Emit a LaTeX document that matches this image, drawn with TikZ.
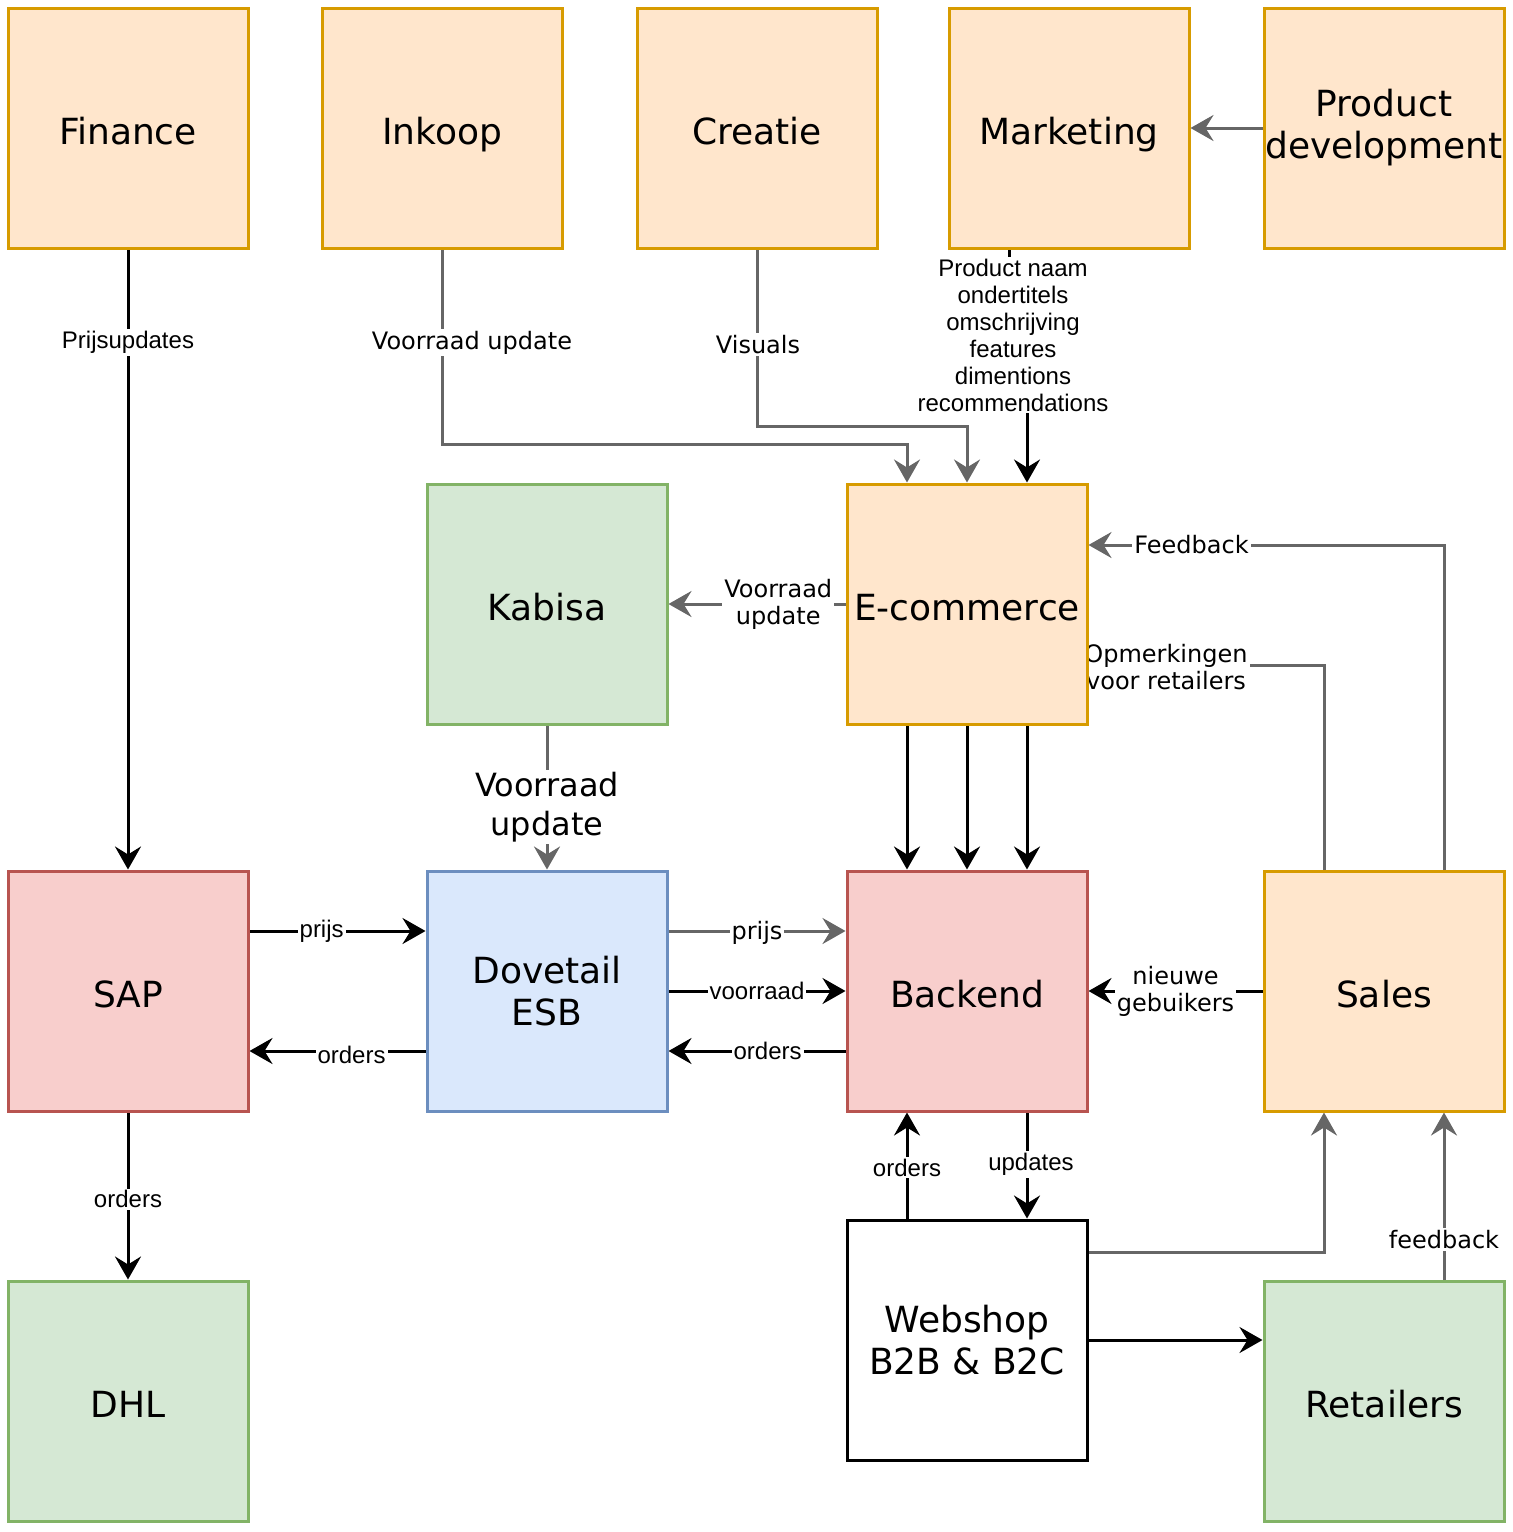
\documentclass[tikz,border=0pt]{standalone}
\usepackage{fontspec}
\setmainfont{DejaVu Sans}
\newfontfamily\arialf{Liberation Sans}
\usetikzlibrary{arrows.meta,calc}
\pgfdeclarelayer{bg}
\pgfsetlayers{bg,main}
\definecolor{orgfill}{HTML}{FFE6CC}
\definecolor{orgline}{HTML}{D79B00}
\definecolor{grnfill}{HTML}{D5E8D4}
\definecolor{grnline}{HTML}{82B366}
\definecolor{redfill}{HTML}{F8CECC}
\definecolor{redline}{HTML}{B85450}
\definecolor{blufill}{HTML}{DAE8FC}
\definecolor{bluline}{HTML}{6C8EBF}
\definecolor{grayline}{HTML}{666666}
\begin{document}
\begin{tikzpicture}[x=0.5pt,y=-0.5pt,
  box/.style={draw, line width=1.5pt, minimum width=120pt, minimum height=120pt, inner sep=0pt, align=center, font=\fontsize{18}{21}\selectfont},
  one/.style={text height=16pt, text depth=0pt},
  org/.style={box, fill=orgfill, draw=orgline},
  grn/.style={box, fill=grnfill, draw=grnline},
  red/.style={box, fill=redfill, draw=redline},
  blu/.style={box, fill=blufill, draw=bluline},
  wht/.style={box, fill=white, draw=black},
  edge/.style={line width=1.5pt, -{Stealth[length=11.5pt,width=13pt,inset=4pt]}},
  gedge/.style={edge, draw=grayline, color=grayline},
  lab/.style={fill=white, text=black, inner sep=1pt, align=center, font=\fontsize{12}{13.5}\selectfont},
  alab/.style={lab, font=\arialf\fontsize{12}{13.5}\selectfont},
  blab/.style={lab, font=\fontsize{16}{19.5}\selectfont}
]
\useasboundingbox (0,0) rectangle (1512,1532);
% nodes
\node[org, one] (fin) at (128,128) {Finance};
\node[org, one] (ink) at (442,128) {Inkoop};
\node[org, one] (cre) at (757,128) {Creatie};
\node[org, one] (mkt) at (1069,128) {Marketing};
\node[org] (pd) at (1384,128) {Product\\development};
\node[grn, one] (kab) at (547,604) {Kabisa};
\node[org, one] (ecom) at (967,604) {E-commerce};
\node[red, one] (sap) at (128,991) {SAP};
\node[blu] (dov) at (547,991) {Dovetail\\ESB};
\node[red, one] (back) at (967,991) {Backend};
\node[org, one] (sales) at (1384,991) {Sales};
\node[grn, one] (dhl) at (128,1401) {DHL};
\node[wht] (web) at (967,1340) {Webshop\\B2B \& B2C};
\node[grn, one] (ret) at (1384,1401) {Retailers};
\begin{pgfonlayer}{bg}
% top row
\draw[gedge] (pd.west) -- (mkt.east);
\draw[edge] (fin.south) -- node[alab, pos=0.15] {Prijsupdates} (sap.north);
\draw[gedge] (ink.south) -- ++(0,195) -| ($(ecom.north)+(-60,0)$);
\node[lab] (inklab) at ($(ink.south)+(30,93)$) {Voorraad update};
\draw[gedge] (cre.south) -- ++(0,177) -| (ecom.north);
\node[lab] (crelab) at ($(cre.south)+(1,95)$) {Visuals};
\draw[edge] ($(mkt.south)+(-60,0)$) -- ++(0,80) -| ($(ecom.north)+(60,0)$);
\node[alab] (mktlab) at (1013,335) {Product naam\\ondertitels\\omschrijving\\features\\dimentions\\recommendations};
% e-commerce
\draw[gedge] (ecom.west) -- node[lab, pos=0.38] {Voorraad\\update} (kab.east);
\draw[gedge] (kab.south) -- node[blab, pos=0.565] {Voorraad\\update} (dov.north);
\draw[edge] ($(ecom.south)+(-60,0)$) -- ($(back.north)+(-60,0)$);
\draw[edge] (ecom.south) -- (back.north);
\draw[edge] ($(ecom.south)+(60,0)$) -- ($(back.north)+(60,0)$);
% middle row
\draw[edge] ($(sap.east)+(0,-60)$) -- node[alab, pos=0.41] {prijs} ($(dov.west)+(0,-60)$);
\draw[edge] ($(dov.west)+(0,60)$) -- node[alab, pos=0.42, yshift=-2pt] {orders} ($(sap.east)+(0,60)$);
\draw[gedge] ($(dov.east)+(0,-60)$) -- node[lab, pos=0.5, yshift=-1pt] {prijs} ($(back.west)+(0,-60)$);
\draw[edge] (dov.east) -- node[alab, pos=0.5] {voorraad} (back.west);
\draw[edge] ($(back.west)+(0,60)$) -- node[alab, pos=0.44] {orders} ($(dov.east)+(0,60)$);
\draw[edge] (sales.west) -- node[lab, pos=0.5] {nieuwe\\gebuikers} (back.east);
\draw[gedge] ($(sales.north)+(60,0)$) |- node[lab, pos=0.855] {Feedback} ($(ecom.east)+(0,-59)$);
\draw[gedge] ($(sales.north)+(-60,0)$) |- ($(ecom.east)+(0,61)$);
\node[lab] (opmlab) at (1166,667) {Opmerkingen\\voor retailers};
% bottom
\draw[edge] ($(web.north)+(-60,0)$) -- node[alab, pos=0.48] {orders} ($(back.south)+(-60,0)$);
\draw[edge] ($(back.south)+(60,0)$) -- node[alab, pos=0.49, xshift=2pt] {updates} ($(web.north)+(60,0)$);
\draw[gedge] ($(web.east)+(0,-88)$) -| ($(sales.south)+(-60,0)$);
\draw[edge] (web.east) -- (web.east -| ret.west);
\draw[gedge] ($(ret.north)+(60,0)$) -- node[lab, pos=0.24] {feedback} ($(sales.south)+(60,0)$);
\draw[edge] (sap.south) -- node[alab, pos=0.52] {orders} (dhl.north);
\end{pgfonlayer}
\end{tikzpicture}
\end{document}
